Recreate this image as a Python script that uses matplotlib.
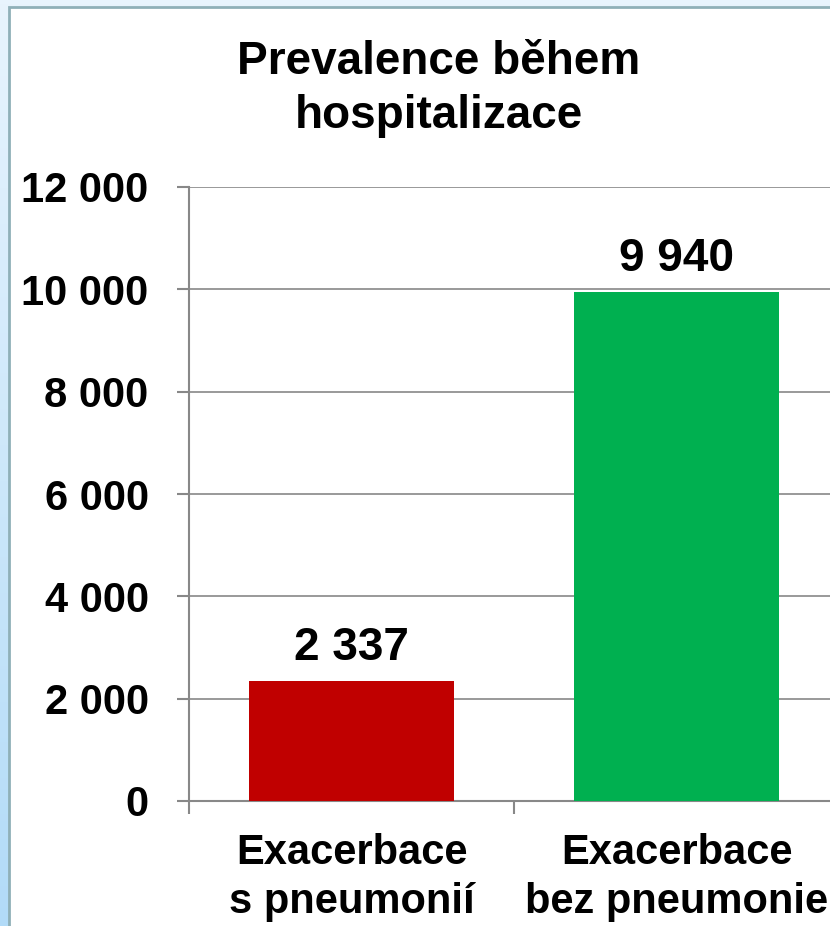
import numpy as np
import matplotlib.pyplot as plt
from matplotlib.patches import Rectangle
from matplotlib.colors import LinearSegmentedColormap
from matplotlib.ticker import FuncFormatter

plt.rcParams["font.family"] = ["Liberation Sans", "DejaVu Sans"]
plt.rcParams["font.weight"] = "bold"

# Hospital prevalence data
categories = ["Exacerbace\ns pneumonií", "Exacerbace\nbez pneumonie"]
values = [2337, 9940]
colors = ["#c00000", "#00b050"]
y_ticks = [0, 2000, 4000, 6000, 8000, 10000, 12000]


def space_thousands(v, pos=None):
    return f"{int(v):,}".replace(",", " ")


fig = plt.figure(figsize=(8.3, 9.26), dpi=100)

# light blue slide background with a white panel on top
bg = fig.add_axes([0, 0, 1, 1], zorder=-2)
grad = np.linspace(0, 1, 256).reshape(-1, 1)
cmap = LinearSegmentedColormap.from_list("bg", ["#e8f4fd", "#b2dbf8"])
bg.imshow(grad, aspect="auto", cmap=cmap, extent=[0, 1, 1, 0])
bg.set_xlim(0, 1)
bg.set_ylim(1, 0)
bg.axis("off")
fig.add_artist(Rectangle((9 / 830, -0.01), 1.0, 1 - 7 / 926 + 0.01,
                         transform=fig.transFigure, facecolor="white",
                         edgecolor="#8fb0b8", linewidth=2, zorder=-1))

ax = fig.add_axes([189 / 830, 125 / 926, 650 / 830, 614 / 926])
ax.patch.set_alpha(0)
x = np.arange(len(categories))
bars = ax.bar(x, values, width=0.63, color=colors, zorder=3)

ax.set_xlim(-0.5, 1.5)
ax.set_ylim(0, 12000)
ax.set_yticks(y_ticks)
ax.yaxis.set_major_formatter(FuncFormatter(space_thousands))
ax.grid(axis="y", color="#888888", linewidth=1.2, zorder=0)

ax.set_xticks(x)
ax.set_xticklabels(categories, fontsize=30, fontweight="bold", linespacing=1.28)
ax.set_xticks([-0.5, 0.5, 1.5], minor=True)
ax.tick_params(axis="x", which="major", length=0, pad=23)
ax.tick_params(axis="x", which="minor", length=9, width=1.5, color="#888888", direction="out")
ax.tick_params(axis="y", length=9, width=1.5, color="#888888", labelsize=30, pad=20)

for side in ["top", "right"]:
    ax.spines[side].set_visible(False)
for side in ["left", "bottom"]:
    ax.spines[side].set_color("#888888")
    ax.spines[side].set_linewidth(1.5)

# value labels above the bars
for b, v in zip(bars, values):
    ax.text(b.get_x() + b.get_width() / 2, v + 410, space_thousands(v),
            ha="center", va="baseline", fontsize=33, fontweight="bold")

fig.text(439 / 830, 1 - 89 / 926, "Prevalence během\nhospitalizace",
         ha="center", va="center", fontsize=33, fontweight="bold", linespacing=1.28)

fig.savefig("out.png", dpi=100)
